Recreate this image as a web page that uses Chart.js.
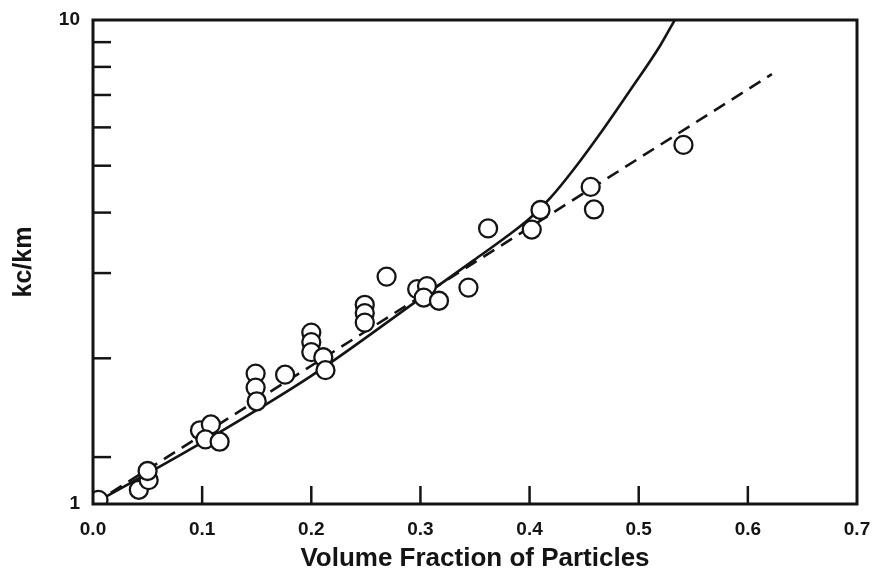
<!DOCTYPE html>
<html lang="en">
<head>
    <meta charset="UTF-8">
    <title>kc/km vs Volume Fraction</title>
    <script src="https://cdn.jsdelivr.net/npm/chart.js"></script>
    <style>
        html, body {
            margin: 0;
            padding: 0;
            background: #fff;
        }
        #chart {
            display: block;
        }
    </style>
</head>
<body>
    <canvas id="chart" width="873" height="571"></canvas>
<script>
    // measured points (volume fraction, kc/km)
    const pointX = [0.005, 0.042, 0.051, 0.050, 0.098, 0.108, 0.103, 0.116,
        0.149, 0.149, 0.150, 0.176, 0.200, 0.200, 0.200, 0.211, 0.213,
        0.249, 0.249, 0.249, 0.269, 0.297, 0.306, 0.303, 0.317, 0.344,
        0.362, 0.402, 0.410, 0.456, 0.459, 0.541];
    const pointY = [1.02, 1.07, 1.12, 1.17, 1.42, 1.46, 1.36, 1.345,
        1.86, 1.74, 1.63, 1.85, 2.26, 2.16, 2.06, 2.01, 1.89,
        2.58, 2.48, 2.37, 2.95, 2.78, 2.82, 2.67, 2.63, 2.80,
        3.71, 3.69, 4.05, 4.52, 4.06, 5.52];

    // solid curve
    const solidX = [0.0, 0.1, 0.2, 0.3, 0.349, 0.379, 0.40, 0.419, 0.44, 0.468, 0.492, 0.52, 0.533];
    const solidY = [1.0, 1.34, 1.84, 2.66, 3.19, 3.57, 3.89, 4.29, 4.90, 5.97, 7.15, 8.88, 10.0];

    // dashed line end points
    const dashX = [0.0, 0.622];
    const dashY = [1.0, 7.73];

    const yTicks = [1, 1.25, 2, 3, 4, 5, 6, 7, 8, 9, 10];

    const ink = '#141414';
    const fontFam = '"Liberation Sans", Arial, Helvetica, sans-serif';

    let toXY = (xs, ys) => xs.map((x, i) => ({x: x, y: ys[i]}));

    // inward tick marks + box frame
    const framePlugin = {
        id: 'frame',
        afterDatasetsDraw(chart) {
            const ctx = chart.ctx;
            const a = chart.chartArea;
            const xs = chart.scales.x;
            const ys = chart.scales.y;
            ctx.save();
            ctx.strokeStyle = ink;
            ctx.lineWidth = 2.5;
            for (let v of yTicks) {
                if (v == 1 || v == 10) continue;
                let py = ys.getPixelForValue(v);
                ctx.beginPath();
                ctx.moveTo(a.left, py);
                ctx.lineTo(a.left + 18, py);
                ctx.stroke();
            }
            for (let i = 1; i < 7; i++) {
                let px = xs.getPixelForValue(i / 10);
                ctx.beginPath();
                ctx.moveTo(px, a.bottom);
                ctx.lineTo(px, a.bottom - 18);
                ctx.stroke();
            }
            ctx.lineWidth = 3;
            ctx.strokeRect(a.left, a.top, a.right - a.left, a.bottom - a.top);
            ctx.restore();
        }
    };

    const chart = new Chart(document.getElementById('chart'), {
        type: 'scatter',
        data: {
            datasets: [{
                label: 'data',
                data: toXY(pointX, pointY),
                pointRadius: 9,
                pointBorderWidth: 2.3,
                pointBorderColor: ink,
                pointBackgroundColor: '#fff',
                showLine: false,
                order: 0
            }, {
                label: 'solid',
                data: toXY(solidX, solidY),
                showLine: true,
                borderColor: ink,
                borderWidth: 2.6,
                pointRadius: 0,
                cubicInterpolationMode: 'monotone',
                order: 1
            }, {
                label: 'dashed',
                data: toXY(dashX, dashY),
                showLine: true,
                borderColor: ink,
                borderWidth: 2.6,
                borderDash: [13, 8],
                pointRadius: 0,
                order: 2
            }]
        },
        options: {
            responsive: false,
            animation: false,
            devicePixelRatio: 1,
            layout: {
                padding: {left: 0, right: 16, top: 20, bottom: 0}
            },
            plugins: {
                legend: {display: false},
                tooltip: {enabled: false}
            },
            scales: {
                x: {
                    type: 'linear',
                    min: 0,
                    max: 0.7,
                    grid: {display: false, drawTicks: false},
                    border: {display: false},
                    ticks: {
                        stepSize: 0.1,
                        padding: 14,
                        color: ink,
                        font: {family: fontFam, size: 19, weight: 'bold'},
                        callback: (v) => Number(v).toFixed(1)
                    },
                    title: {
                        display: true,
                        text: 'Volume Fraction of Particles',
                        color: ink,
                        padding: {top: 0, bottom: 0},
                        font: {family: fontFam, size: 26, weight: 'bold', lineHeight: 0.9}
                    },
                    afterFit: (s) => {
                        s.height = 67;
                        s.paddingLeft = 0;
                        s.paddingRight = 0;
                    }
                },
                y: {
                    type: 'logarithmic',
                    min: 1,
                    max: 10,
                    grid: {display: false, drawTicks: false},
                    border: {display: false},
                    afterBuildTicks: (s) => {
                        s.ticks = yTicks.map(v => ({value: v}));
                    },
                    ticks: {
                        autoSkip: false,
                        padding: 13,
                        color: ink,
                        font: {family: fontFam, size: 19, weight: 'bold'},
                        callback: (v) => (v == 1 || v == 10) ? String(v) : ''
                    },
                    title: {
                        display: true,
                        text: 'kc/km',
                        color: ink,
                        padding: {top: 9, bottom: 0},
                        font: {family: fontFam, size: 25, weight: 'bold', lineHeight: 1.2}
                    },
                    afterFit: (s) => {
                        s.width = 93;
                        s.paddingTop = 0;
                        s.paddingBottom = 0;
                    }
                }
            }
        },
        plugins: [framePlugin]
    });
</script>
</body>
</html>
